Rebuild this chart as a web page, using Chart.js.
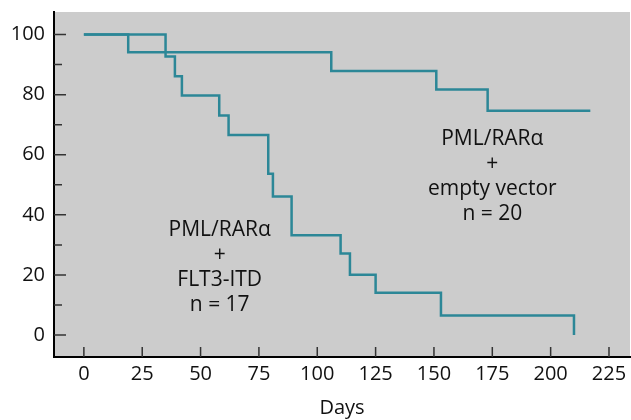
<!DOCTYPE html>
<html lang="en">
<head>
    <meta charset="UTF-8">
    <title>Survival curves</title>
    <script src="https://cdn.jsdelivr.net/npm/chart.js"></script>
    <style>
        body { margin: 0; background: #fff; }
        canvas { display: block; }
    </style>
</head>
<body>
    <canvas id="chartCanvas" width="631" height="420"></canvas>

    <script>
        // Kaplan-Meier steps (day of event, percent surviving after it)
        const emptyDays = [0, 19, 106, 151, 173, 217];
        const emptySurv = [100, 94.1, 87.9, 81.7, 74.6, 74.6];

        const flt3Days = [0, 35, 39, 42, 58, 62, 79, 81, 89, 110, 114, 125, 153, 210];
        const flt3Surv = [100, 92.7, 86.1, 79.7, 73.1, 66.6, 53.7, 46.1, 33.2, 27.1, 20.1, 14.1, 6.5, 0];

        const xTicks = [0, 25, 50, 75, 100, 125, 150, 175, 200, 225];
        const yTicks = [0, 20, 40, 60, 80, 100];
        const yMinorTicks = [10, 30, 50, 70, 90];

        const emptyLabel = ['PML/RAR\u03b1', '+', 'empty vector', 'n = 20'];
        const flt3Label = ['PML/RAR\u03b1', '+', 'FLT3-ITD', 'n = 17'];

        const lineColor = '#2c8797';
        const fontFamily = "'Open Sans', 'Noto Sans', sans-serif";

        // gray plot background
        const plotBackground = {
            id: 'plotBackground',
            beforeDraw(chart) {
                const { ctx, chartArea: a } = chart;
                ctx.save();
                ctx.fillStyle = '#cccccc';
                ctx.fillRect(a.left, a.top, a.right - a.left, a.bottom - a.top);
                ctx.restore();
            }
        };

        // tick marks point into the plot
        const innerTicks = {
            id: 'innerTicks',
            beforeDatasetsDraw(chart) {
                const { ctx, chartArea: a, scales } = chart;
                ctx.save();
                ctx.strokeStyle = '#333';
                ctx.lineWidth = 1.5;
                ctx.beginPath();
                xTicks.forEach(v => {
                    const x = scales.x.getPixelForValue(v);
                    ctx.moveTo(x, a.bottom);
                    ctx.lineTo(x, a.bottom - 10);
                });
                yTicks.forEach(v => {
                    const y = scales.y.getPixelForValue(v);
                    ctx.moveTo(a.left, y);
                    ctx.lineTo(a.left + 12, y);
                });
                yMinorTicks.forEach(v => {
                    const y = scales.y.getPixelForValue(v);
                    ctx.moveTo(a.left, y);
                    ctx.lineTo(a.left + 8, y);
                });
                ctx.stroke();
                ctx.restore();
            }
        };

        // group labels placed in data coordinates
        const groupLabels = {
            id: 'groupLabels',
            afterDatasetsDraw(chart) {
                const { ctx, scales } = chart;
                const blocks = [
                    { lines: emptyLabel, day: 175, value: 65.3 },
                    { lines: flt3Label, day: 58.2, value: 35 }
                ];
                ctx.save();
                ctx.fillStyle = '#111';
                ctx.font = '21px ' + fontFamily;
                ctx.textAlign = 'center';
                ctx.textBaseline = 'middle';
                blocks.forEach(b => {
                    const x = scales.x.getPixelForValue(b.day);
                    const y0 = scales.y.getPixelForValue(b.value);
                    b.lines.forEach((t, i) => ctx.fillText(t, x, y0 + i * 25));
                });
                ctx.restore();
            }
        };

        const toPoints = (days, surv) => days.map((d, i) => ({ x: d, y: surv[i] }));

        const ctx = document.getElementById('chartCanvas').getContext('2d');
        new Chart(ctx, {
            type: 'line',
            data: {
                datasets: [{
                    label: 'PML/RARa + empty vector',
                    data: toPoints(emptyDays, emptySurv),
                    borderColor: lineColor,
                    borderWidth: 2.5,
                    stepped: 'before',
                    pointRadius: 0,
                    fill: false
                },
                {
                    label: 'PML/RARa + FLT3-ITD',
                    data: toPoints(flt3Days, flt3Surv),
                    borderColor: lineColor,
                    borderWidth: 2.5,
                    stepped: 'before',
                    pointRadius: 0,
                    fill: false
                }]
            },
            options: {
                responsive: false,
                animation: false,
                layout: { padding: { top: 12, right: 1, left: 0, bottom: 0 } },
                plugins: {
                    legend: { display: false },
                    tooltip: { enabled: false }
                },
                scales: {
                    x: {
                        type: 'linear',
                        min: -12.8,
                        max: 234,
                        afterBuildTicks: scale => { scale.ticks = xTicks.map(v => ({ value: v })); },
                        afterFit: scale => {
                            scale.height = 63;
                            scale.paddingLeft = 0;
                            scale.paddingRight = 0;
                        },
                        grid: { display: false, drawTicks: false, tickLength: 0 },
                        border: { display: true, color: '#000', width: 2 },
                        ticks: {
                            color: '#111',
                            padding: 5,
                            maxRotation: 0,
                            font: { family: fontFamily, size: 20 }
                        },
                        title: {
                            display: true,
                            text: 'Days',
                            color: '#111',
                            padding: { top: 4, bottom: 0 },
                            font: { family: fontFamily, size: 20 }
                        }
                    },
                    y: {
                        min: -7.3,
                        max: 107.5,
                        afterBuildTicks: scale => { scale.ticks = yTicks.map(v => ({ value: v })); },
                        afterFit: scale => {
                            scale.width = 54;
                            scale.paddingTop = 0;
                            scale.paddingBottom = 0;
                        },
                        grid: { display: false, drawTicks: false, tickLength: 0 },
                        border: { display: true, color: '#000', width: 2 },
                        ticks: {
                            color: '#111',
                            padding: 9,
                            font: { family: fontFamily, size: 20 }
                        }
                    }
                }
            },
            plugins: [plotBackground, innerTicks, groupLabels]
        });
    </script>
</body>
</html>
